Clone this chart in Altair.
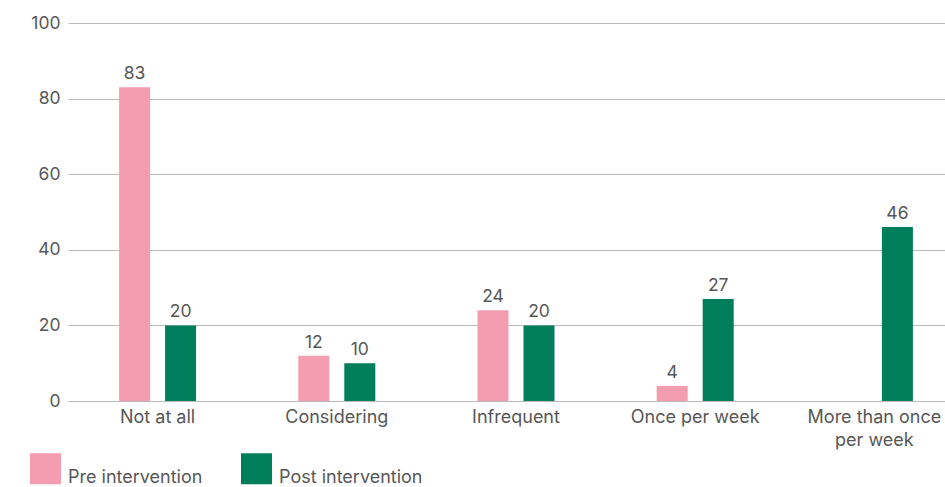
import altair as alt
import pandas as pd

categories = ["Not at all", "Considering", "Infrequent", "Once per week", "More than once per week"]
pre_values = [83, 12, 24, 4, 0]
post_values = [20, 10, 20, 27, 46]
series = ["Pre intervention", "Post intervention"]
colors = ["#F49CB0", "#007E5B"]

rows = []
for c, a, b in zip(categories, pre_values, post_values):
    rows.append({"category": c, "group": series[0], "value": a})
    rows.append({"category": c, "group": series[1], "value": b})
df = pd.DataFrame(rows)

FONT = "Inter"
TXT = "#575757"

x = alt.X("category:N", sort=categories, title=None,
          scale=alt.Scale(paddingInner=0, paddingOuter=0, range=[0, 896]),
          axis=alt.Axis(labelAngle=0, labelFontSize=18, labelColor=TXT, labelFont=FONT,
                        ticks=False, domain=False, labelPadding=7, labelLineHeight=23,
                        labelExpr="datum.label == 'More than once per week' ? ['More than once', 'per week'] : datum.label"))
xo = alt.XOffset("group:N", sort=series,
                 scale=alt.Scale(paddingInner=0.326, paddingOuter=0, range=[51.1, 128.1]))
y = alt.Y("value:Q", title=None, scale=alt.Scale(domain=[0, 100]),
          axis=alt.Axis(values=[0, 20, 40, 60, 80, 100], labelFontSize=17.5, labelColor=TXT,
                        labelFont=FONT, ticks=False, domain=False, labelPadding=8,
                        gridColor="#BBBBBB", gridWidth=1.2))

base = alt.Chart(df)
bars = base.mark_bar().encode(
    x=x, xOffset=xo, y=y,
    color=alt.Color("group:N", sort=series,
                    scale=alt.Scale(domain=series, range=colors),
                    legend=alt.Legend(title=None, orient="none", direction="horizontal",
                                      legendX=-38, legendY=430, symbolType="square",
                                      symbolSize=961, symbolStrokeWidth=0, symbolOpacity=1,
                                      labelFontSize=18, labelColor=TXT, labelFont=FONT,
                                      labelOffset=7, columnPadding=38, labelBaseline="top",
                                      labelLimit=300)),
)
labels = base.transform_filter("datum.value > 0").mark_text(
    dy=-13, fontSize=17.5, color=TXT, font=FONT
).encode(x=x, xOffset=xo, y=y, text="value:Q")

chart = (bars + labels).properties(
    width=877, height=378,
    autosize=alt.AutoSizeParams(type="none"),
    padding={"left": 68, "top": 23, "right": 0, "bottom": 86},
).configure_view(stroke=None)

chart.save("out.html", embed_options={"renderer": "svg", "actions": False})
